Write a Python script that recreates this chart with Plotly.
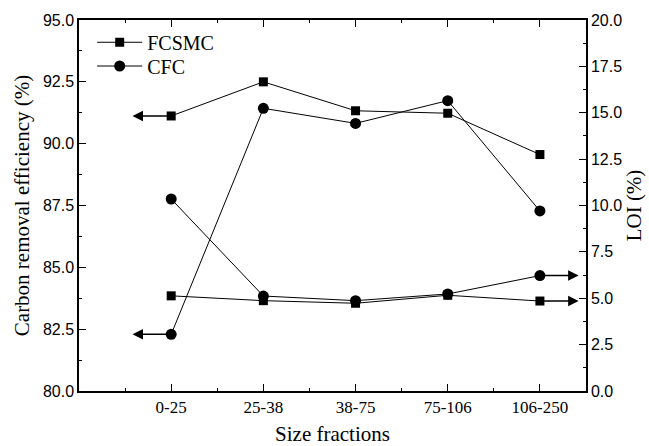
import plotly.graph_objects as go

categories = ["0-25", "25-38", "38-75", "75-106", "106-250"]
fcsmc_cre = [91.12, 92.50, 91.33, 91.23, 89.56]
cfc_cre = [82.29, 91.43, 90.82, 91.74, 87.28]
fcsmc_loi = [5.13, 4.87, 4.73, 5.16, 4.85]
cfc_loi = [10.35, 5.12, 4.87, 5.23, 6.22]

xpos = list(range(1, len(categories) + 1))
serif = "Liberation Serif, Times New Roman, serif"
sans = "Liberation Sans, Arial, sans-serif"

fig = go.Figure()
sq = dict(symbol="square", size=9, color="black")
ci = dict(symbol="circle", size=11, color="black")
ln = dict(color="black", width=1)

fig.add_trace(go.Scatter(x=xpos, y=fcsmc_cre, mode="lines+markers", name="FCSMC",
                         marker=sq, line=ln, yaxis="y", legend="legend"))
fig.add_trace(go.Scatter(x=xpos, y=cfc_cre, mode="lines+markers", name="CFC",
                         marker=ci, line=ln, yaxis="y", legend="legend2"))
fig.add_trace(go.Scatter(x=xpos, y=fcsmc_loi, mode="lines+markers", name="FCSMC",
                         marker=sq, line=ln, yaxis="y2", showlegend=False))
fig.add_trace(go.Scatter(x=xpos, y=cfc_loi, mode="lines+markers", name="CFC",
                         marker=ci, line=ln, yaxis="y2", showlegend=False))

# arrows indicating axes
arrow_len = 0.42
for yv in (fcsmc_cre[0], cfc_cre[0]):
    fig.add_annotation(x=xpos[0] - arrow_len, y=yv, ax=xpos[0], ay=yv,
                       xref="x", yref="y", axref="x", ayref="y",
                       showarrow=True, arrowhead=2, arrowsize=1.4, arrowwidth=1.5,
                       arrowcolor="black", text="")
for yv in (fcsmc_loi[-1], cfc_loi[-1]):
    fig.add_annotation(x=xpos[-1] + arrow_len, y=yv, ax=xpos[-1], ay=yv,
                       xref="x", yref="y2", axref="x", ayref="y2",
                       showarrow=True, arrowhead=2, arrowsize=1.4, arrowwidth=1.5,
                       arrowcolor="black", text="")

leg_common = dict(xanchor="left", yanchor="middle",
                  font=dict(family=serif, size=20, color="black"),
                  bgcolor="rgba(0,0,0,0)", itemwidth=45)

fig.update_layout(
    width=649, height=446,
    margin=dict(l=79, r=63, t=20, b=55),
    paper_bgcolor="white", plot_bgcolor="white",
    showlegend=True,
    legend=dict(x=0.026, y=0.94, **leg_common),
    legend2=dict(x=0.026, y=0.876, **leg_common),
    xaxis=dict(range=[0, 5.5], tickvals=xpos, ticktext=categories, automargin=False,
               showline=True, linecolor="black", linewidth=1.5, mirror="ticks",
               ticks="inside", ticklen=7, tickcolor="black",
               minor=dict(ticks="inside", ticklen=3, dtick=0.5, tick0=0, tickcolor="black"),
               showgrid=False, zeroline=False,
               tickfont=dict(family=serif, size=17, color="black"),
               title=dict(text="Size fractions", font=dict(family=serif, size=21, color="black"),
                          standoff=15)),
    yaxis=dict(range=[80, 95], dtick=2.5, tick0=80, tickformat=".1f", automargin=False,
               showline=True, linecolor="black", linewidth=1.5,
               ticks="inside", ticklen=7, tickcolor="black",
               minor=dict(ticks="inside", ticklen=3, dtick=1.25, tickcolor="black"),
               showgrid=False, zeroline=False,
               tickfont=dict(family=sans, size=16, color="black"),
               title=dict(text="Carbon removal efficiency (%)",
                          font=dict(family=serif, size=21, color="black"), standoff=8)),
    yaxis2=dict(range=[0, 20], dtick=2.5, tick0=0, tickformat=".1f", automargin=False,
                overlaying="y", side="right",
                showline=True, linecolor="black", linewidth=1.5,
                ticks="inside", ticklen=7, tickcolor="black",
                minor=dict(ticks="inside", ticklen=3, dtick=1.25, tickcolor="black"),
                showgrid=False, zeroline=False,
                tickfont=dict(family=sans, size=16, color="black"),
                title=dict(text="LOI (%)", font=dict(family=serif, size=21, color="black"),
                           standoff=4)),
)

fig.write_html("out.html")
